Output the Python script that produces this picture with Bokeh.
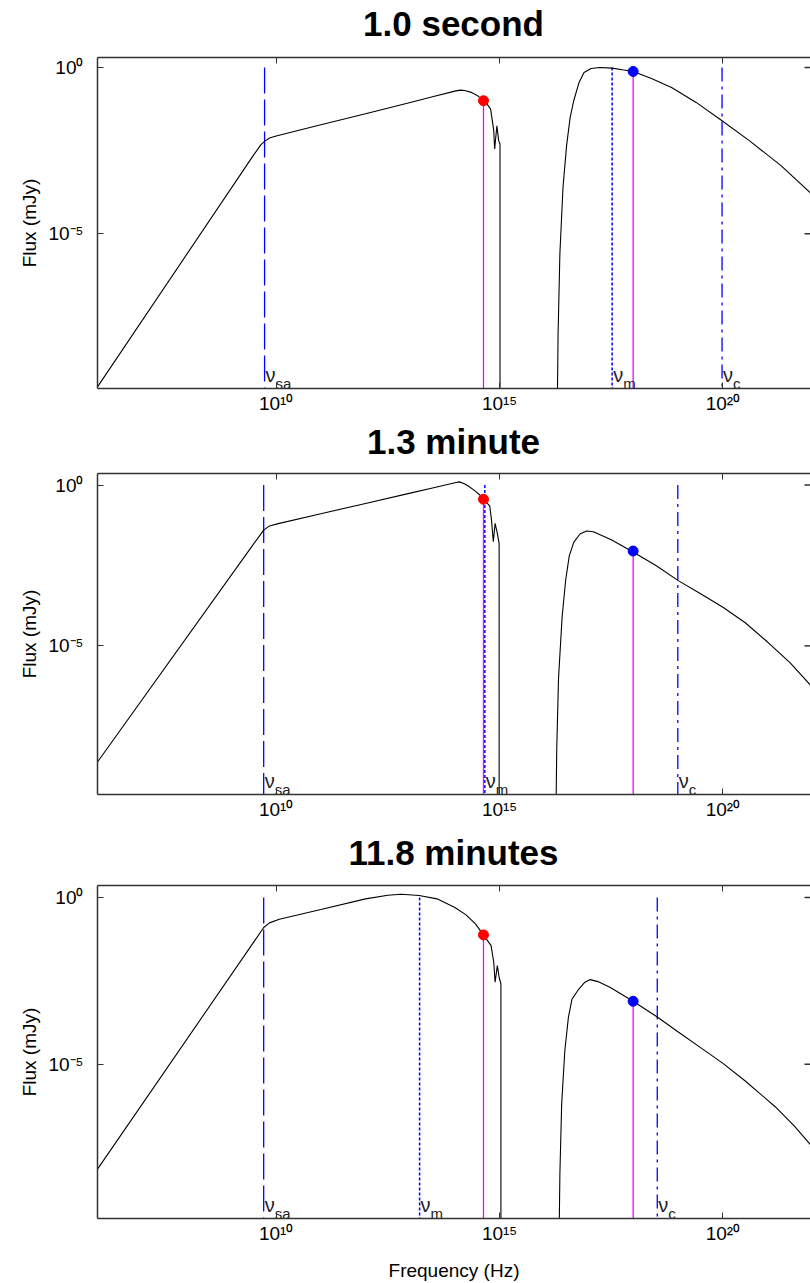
import numpy as np
from bokeh.plotting import figure
from bokeh.layouts import column
from bokeh.models import FixedTicker, LogAxis, Range1d, Div
from bokeh.embed import file_html
from bokeh.resources import INLINE
from bokeh.core.properties import value

FONT = "Liberation Sans"

titles = ["1.0 second", "1.3 minute", "11.8 minutes"]

# ---- data (log10 frequency [Hz], log10 flux [mJy]) ----
# synchrotron component
sync_lognu = [
    [5.95, 6.0, 9.5, 9.66, 9.74, 9.85, 10.0, 10.2, 11.0, 12.0, 13.0, 13.5, 14.0, 14.12, 14.22, 14.35, 14.5, 14.64, 14.72, 14.8, 14.87, 14.89, 14.94, 14.98, 15.01, 15.01],
    [5.95, 6.0, 9.5, 9.72, 9.85, 10.07, 11.0, 12.0, 13.0, 13.5, 14.0, 14.1, 14.2, 14.3, 14.45, 14.55, 14.64, 14.72, 14.78, 14.82, 14.86, 14.9, 14.95, 14.99, 14.99],
    [5.95, 6.0, 9.5, 9.72, 9.85, 10.07, 11.0, 12.0, 12.5, 12.8, 13.2, 13.6, 14.0, 14.25, 14.46, 14.64, 14.81, 14.87, 14.9, 14.95, 14.99, 15.03, 15.03],
]
sync_logf = [
    [-9.7, -9.6, -2.62, -2.32, -2.22, -2.12, -2.06, -1.99, -1.72, -1.39, -1.05, -0.88, -0.71, -0.68, -0.69, -0.74, -0.84, -1.0, -1.1, -1.25, -1.9, -2.45, -1.75, -2.2, -2.3, -10.5],
    [-8.71, -8.61, -1.82, -1.40, -1.27, -1.19, -0.89, -0.57, -0.25, -0.09, 0.07, 0.10, 0.05, -0.03, -0.18, -0.30, -0.44, -0.56, -0.65, -1.09, -1.76, -1.19, -1.5, -1.81, -10.5],
    [-8.24, -8.14, -1.33, -0.90, -0.76, -0.65, -0.36, -0.04, 0.07, 0.10, 0.06, -0.04, -0.30, -0.52, -0.79, -1.12, -1.44, -1.94, -2.54, -2.04, -2.39, -2.59, -10.5],
]
# inverse-Compton component
ic_lognu = [
    [16.29, 16.31, 16.35, 16.42, 16.5, 16.58, 16.66, 16.78, 16.89, 17.05, 17.24, 17.52, 17.75, 17.99, 18.4, 18.85, 19.4, 19.98, 20.59, 21.3, 21.96],
    [16.26, 16.28, 16.32, 16.4, 16.48, 16.56, 16.66, 16.8, 16.95, 17.1, 17.5, 17.95, 18.5, 19.0, 19.5, 20.0, 20.5, 21.0, 21.5, 21.96],
    [16.33, 16.35, 16.39, 16.46, 16.54, 16.62, 16.77, 16.9, 17.03, 17.2, 17.47, 17.99, 18.53, 19.0, 19.5, 20.0, 20.5, 21.17, 21.6, 21.96],
]
ic_logf = [
    [-10.5, -8.0, -5.6, -3.6, -2.35, -1.5, -1.0, -0.45, -0.15, -0.03, 0.0, -0.02, -0.07, -0.12, -0.33, -0.6, -1.05, -1.6, -2.2, -2.95, -3.77],
    [-10.5, -8.2, -6.0, -4.1, -2.95, -2.2, -1.78, -1.52, -1.43, -1.45, -1.7, -2.05, -2.5, -2.97, -3.38, -3.8, -4.28, -4.88, -5.52, -6.22],
    [-10.5, -8.3, -6.2, -4.6, -3.6, -3.05, -2.75, -2.55, -2.46, -2.52, -2.69, -3.11, -3.58, -4.03, -4.5, -4.97, -5.5, -6.27, -6.85, -7.41],
]
# break frequencies (log10 Hz)
log_nu_sa = [9.74, 9.72, 9.72]
log_nu_m = [17.52, 14.67, 13.21]
log_nu_c = [19.98, 18.99, 18.53]
# observed bands: optical (red) and X-ray (blue) points
log_nu_opt = 14.64
log_nu_x = 17.99
log_f_opt = [-1.0, -0.44, -1.12]
log_f_x = [-0.12, -2.05, -3.11]

# axes
x_lim_log = (6.0, 21.96)
y_lim_log = [(-9.65, 0.30), (-9.62, 0.36), (-9.62, 0.36)]
xticks = [1e10, 1e15, 1e20]
xtick_labels = ["10\u00b9\u2070", "10\u00b9\u2075", "10\u00b2\u2070"]
yticks = [1e-5, 1e0]
ytick_labels = ["10\u207b\u2075", "10\u2070"]

# layout (pixels)
title_heights = [45, 41, 43]
title_pad = [6, 4, 5]
heights = [375, 369, 410]
border_top = 12
border_bottom = [32, 36, 64]

FRAME = "#333333"

items = []
for i in range(3):
    items.append(Div(
        text=(f'<div style="width:713px;margin-left:97px;padding-top:{title_pad[i]}px;'
              f'text-align:center;font-family:\'{FONT}\';font-weight:bold;font-size:35px;'
              f'line-height:35px;color:black;white-space:nowrap;">{titles[i]}</div>'),
        width=810, height=title_heights[i], margin=0))

    ylo, yhi = 10 ** y_lim_log[i][0], 10 ** y_lim_log[i][1]
    xlo, xhi = 10 ** x_lim_log[0], 10 ** x_lim_log[1]
    p = figure(width=810, height=heights[i], x_axis_type="log", y_axis_type="log",
               x_range=Range1d(xlo, xhi), y_range=Range1d(ylo, yhi),
               output_backend="svg", toolbar_location=None,
               min_border_left=97, min_border_right=0,
               min_border_top=border_top, min_border_bottom=border_bottom[i], margin=0)
    p.xgrid.visible = False
    p.ygrid.visible = False
    p.outline_line_color = None
    p.background_fill_color = "white"
    p.border_fill_color = "white"

    for ax, ticks, labels in ((p.xaxis[0], xticks, xtick_labels), (p.yaxis[0], yticks, ytick_labels)):
        ax.ticker = FixedTicker(ticks=ticks, minor_ticks=[])
        ax.major_label_overrides = {t: l for t, l in zip(ticks, labels)}
        ax.major_tick_in = 6
        ax.major_tick_out = 0
        ax.minor_tick_line_color = None
        ax.axis_line_color = FRAME
        ax.axis_line_width = 1.5
        ax.major_tick_line_color = FRAME
        ax.major_label_text_font = FONT
        ax.major_label_text_font_size = "19px"
        ax.major_label_text_color = "black"
        ax.axis_label_text_font = FONT
        ax.axis_label_text_font_size = "19px"
        ax.axis_label_text_font_style = "normal"
        ax.axis_label_text_color = "black"
    p.yaxis[0].major_label_standoff = 14
    p.xaxis[0].major_label_standoff = 4
    p.yaxis[0].axis_label = "Flux (mJy)"
    p.yaxis[0].axis_label_standoff = 5
    if i == 2:
        p.xaxis[0].axis_label = "Frequency (Hz)"
        p.xaxis[0].axis_label_standoff = 13

    # top frame line with inward ticks (no labels)
    top = LogAxis(ticker=FixedTicker(ticks=xticks, minor_ticks=[]),
                  major_tick_in=6, major_tick_out=0, axis_line_color=FRAME, axis_line_width=1.5,
                  major_tick_line_color=FRAME, minor_tick_line_color=None,
                  major_label_overrides={t: l for t, l in zip(xticks, xtick_labels)},
                  major_label_text_font_size="1px", major_label_text_alpha=0.0,
                  major_label_standoff=0)
    p.add_layout(top, "above")

    # right-hand inward ticks
    p.ray(x=[xhi] * len(yticks), y=yticks, length=6, length_units="screen",
          angle=np.pi, line_color=FRAME, line_width=1.5)

    ybot = ylo / 10

    # break frequency markers
    seg_style = [
        (log_nu_sa[i], "26 6", 1.3),
        (log_nu_m[i], "3 2", 1.5),
        (log_nu_c[i], "14 5 3 5", 1.3),
    ]
    for lnu, dash, lw in seg_style:
        nu = 10 ** lnu
        p.segment(x0=[nu], y0=[1.0], x1=[nu], y1=[ybot], line_color="#0000ff",
                  line_width=lw, line_dash=dash)

    # spectrum
    p.line(10 ** np.array(sync_lognu[i]), 10 ** np.array(sync_logf[i]), line_color="black", line_width=1.1)
    p.line(10 ** np.array(ic_lognu[i]), 10 ** np.array(ic_logf[i]), line_color="black", line_width=1.1)

    # observed points with stems
    for lnu, lf, col in ((log_nu_opt, log_f_opt[i], "#ff0000"), (log_nu_x, log_f_x[i], "#0000ff")):
        p.segment(x0=[10 ** lnu], y0=[10 ** lf], x1=[10 ** lnu], y1=[ybot], line_color="#ff00ff", line_width=1.3)
        p.scatter(x=[10 ** lnu], y=[10 ** lf], size=10, fill_color=col, line_color=col)

    # break labels
    for lnu, sub in ((log_nu_sa[i], "sa"), (log_nu_m[i], "m"), (log_nu_c[i], "c")):
        nu = 10 ** lnu
        p.text(x=[nu], y=[ylo], text=["\u03bd"], x_offset=1, y_offset=-14,
               text_font=value(FONT), text_font_size="20px", text_baseline="alphabetic",
               text_color="#222222")
        p.text(x=[nu], y=[ylo], text=[sub], x_offset=11, y_offset=-5,
               text_font=value(FONT), text_font_size="15px", text_baseline="alphabetic",
               text_color="#222222")
    items.append(p)

layout = column(*items, spacing=0)
open("out.html", "w").write(file_html(layout, INLINE))
